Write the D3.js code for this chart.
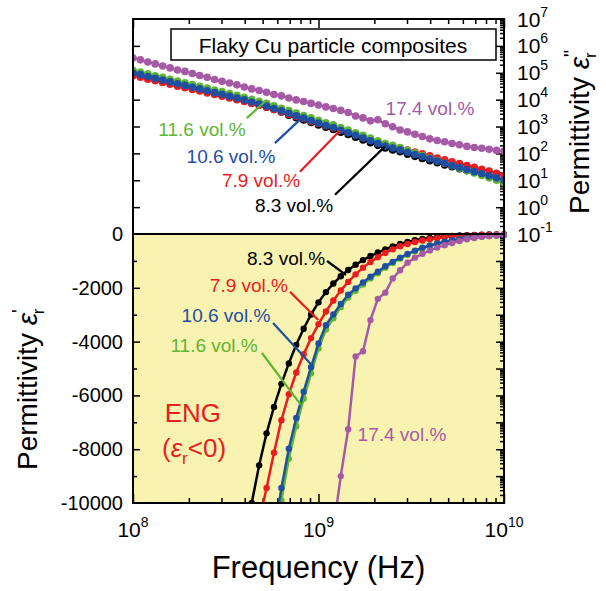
<!DOCTYPE html>
<html>
<head>
<meta charset="utf-8">
<script src="https://cdn.jsdelivr.net/npm/d3@7"></script>
<style>
  body { margin: 0; background: #fff; }
  svg text { font-family: "Liberation Sans", Arial, sans-serif; }
</style>
</head>
<body>
<div id="canvas"></div>
<script>
// frequency grid, log10(Hz)
const logFreq = [8.00,8.04,8.08,8.12,8.16,8.20,8.24,8.28,8.32,8.36,8.40,8.44,8.48,8.52,8.56,8.60,8.64,8.68,8.72,8.76,
  8.80,8.84,8.88,8.92,8.96,9.00,9.04,9.08,9.12,9.16,9.20,9.24,9.28,9.32,9.36,9.40,9.44,9.48,9.52,9.56,
  9.60,9.64,9.68,9.72,9.76,9.80,9.84,9.88,9.92,9.96,10.00];

const seriesNames = ["8.3 vol.%", "7.9 vol.%", "11.6 vol.%", "10.6 vol.%", "17.4 vol.%"];
const seriesColors = ["#000000", "#ea1c1f", "#5fb535", "#1f4fa3", "#a65aa6"];

// top panel: log10 of eps'' (imaginary part)
const lossTop83 = [4.95,4.89,4.82,4.75,4.69,4.62,4.55,4.49,4.42,4.36,4.29,4.22,4.16,4.09,4.02,3.95,3.87,3.80,3.72,3.63,
  3.54,3.42,3.33,3.24,3.15,3.06,2.97,2.89,2.79,2.70,2.60,2.50,2.40,2.30,2.20,2.13,2.06,1.97,1.89,1.81,
  1.73,1.65,1.57,1.50,1.43,1.36,1.29,1.22,1.14,1.07,0.99];
const lossTop79 = [4.89,4.83,4.76,4.70,4.64,4.57,4.50,4.44,4.38,4.32,4.25,4.19,4.13,4.06,4.00,3.93,3.86,3.79,3.72,3.63,
  3.54,3.46,3.37,3.29,3.20,3.11,3.03,2.95,2.86,2.78,2.68,2.59,2.50,2.41,2.32,2.26,2.20,2.12,2.05,1.98,
  1.91,1.83,1.76,1.69,1.62,1.55,1.48,1.41,1.34,1.26,1.18];
const lossTop116 = [5.09,5.03,4.96,4.89,4.83,4.76,4.69,4.63,4.56,4.50,4.43,4.36,4.30,4.23,4.16,4.09,4.01,3.94,3.86,3.77,
  3.68,3.59,3.50,3.41,3.32,3.23,3.14,3.06,2.96,2.87,2.77,2.67,2.57,2.47,2.37,2.30,2.22,2.11,2.02,1.92,
  1.83,1.73,1.63,1.54,1.45,1.36,1.27,1.18,1.09,1.00,0.91];
const lossTop106 = [4.99,4.93,4.86,4.79,4.73,4.66,4.59,4.53,4.46,4.40,4.33,4.26,4.20,4.13,4.06,3.99,3.91,3.84,3.76,3.67,
  3.58,3.49,3.40,3.31,3.22,3.13,3.04,2.96,2.86,2.77,2.67,2.57,2.47,2.37,2.27,2.20,2.13,2.04,1.96,1.88,
  1.80,1.71,1.63,1.55,1.48,1.40,1.32,1.25,1.17,1.09,1.01];
const lossTop174 = [5.55,5.48,5.40,5.33,5.25,5.18,5.10,5.05,4.97,4.90,4.83,4.75,4.68,4.62,4.55,4.47,4.40,4.34,4.27,4.19,
  4.14,4.06,3.99,3.93,3.86,3.80,3.73,3.67,3.60,3.52,3.39,3.32,3.21,3.25,3.10,2.99,2.87,2.80,2.71,2.63,
  2.54,2.48,2.43,2.37,2.32,2.26,2.22,2.19,2.15,2.11,2.09];

// bottom panel: eps' (real part), null where off the chart
const permBot83 = Array(15).fill(null).concat([-11300,-10000,-8600,-7410,-6430,-5570,-4810,-4120,-3520,-2990,
  -2540,-2160,-1840,-1570,-1340,-1140,-970,-820,-690,-570,-460,-370,-295,-234,-186,-148,-117,-91,-71,-55,
  -43,-33,-25,-19,-14,-10]);
const permBot79 = Array(17).fill(null).concat([-10700,-9440,-8130,-6920,-5960,-5150,-4470,-3870,-3350,-2880,
  -2470,-2100,-1780,-1500,-1250,-1040,-860,-705,-570,-457,-370,-300,-242,-195,-155,-122,-95,-73,-56,-43,
  -33,-25,-18,-13]);
const permBot116 = Array(19).fill(null).concat([-11700,-9900,-8350,-7150,-6120,-5180,-4260,-3550,-3130,-2720,
  -2360,-2110,-1880,-1650,-1460,-1250,-1075,-915,-770,-640,-532,-443,-368,-298,-242,-196,-160,-124,-96,-73,
  -54,-39]);
const permBot106 = Array(19).fill(null).concat([-11200,-9440,-7980,-6840,-5860,-4950,-4070,-3390,-2990,-2600,
  -2260,-2020,-1800,-1585,-1400,-1200,-1035,-880,-740,-617,-513,-427,-355,-288,-234,-190,-155,-120,-93,-71,
  -52,-38]);
const permBot174 = Array(27).fill(null).concat([-11000,-9000,-7260,-4550,-4360,-3200,-2410,-2180,-1650,-1350,
  -1065,-880,-735,-610,-505,-415,-333,-260,-197,-148,-105,-75,-45,-30]);

// annotation anchors in data units: [log10 f, log10 eps''] / [log10 f, eps']
const topLabelPos = [[8.868,0.09],[8.690,1.01],[8.372,2.91],[8.528,1.91],[9.601,3.69]];
const topPointers = [[9.089,0.46,9.358,2.25],[8.900,1.32,9.116,2.85],[8.613,3.31,8.712,3.93],[8.765,2.38,8.909,3.31],null];
const botLabelPos = [[8.825,-892],[8.625,-1896],[8.437,-4126],[8.501,-3011],[9.450,-7435]];
const botPointers = [[9.046,-1004,9.148,-1524],[8.846,-2145,8.999,-3197],[8.695,-4424,8.905,-6350],[8.755,-3309,8.963,-4870],null];

const xTickExp = [8, 9, 10];
const rightTickExp = [-1, 0, 1, 2, 3, 4, 5, 6, 7];
const leftTickVals = [0, -2000, -4000, -6000, -8000, -10000];

const w = 606, h = 591;
const plot = {left: 133, right: 504, top: 19, mid: 234, bottom: 503};

const x = d3.scaleLog().domain([1e8, 1e10]).range([plot.left, plot.right]);
const yTop = d3.scaleLog().domain([1e-1, 1e7]).range([plot.mid, plot.top]);
const yBot = d3.scaleLinear().domain([-10000, 0]).range([plot.bottom, plot.mid]);
const yRight = d3.scaleLog().domain([1e-11, 1e7]).range([plot.bottom, plot.top]);

const svg = d3.select("#canvas").append("svg")
  .attr("width", w).attr("height", h);

const defs = svg.append("defs");
defs.append("clipPath").attr("id", "clipTop").append("rect")
  .attr("x", plot.left).attr("y", plot.top)
  .attr("width", plot.right - plot.left).attr("height", plot.mid - plot.top);
defs.append("clipPath").attr("id", "clipBot").append("rect")
  .attr("x", plot.left).attr("y", plot.mid - 4)
  .attr("width", plot.right - plot.left + 3).attr("height", plot.bottom - plot.mid + 4);

// yellow ENG region
svg.append("rect")
  .attr("x", plot.left).attr("y", plot.mid)
  .attr("width", plot.right - plot.left).attr("height", plot.bottom - plot.mid)
  .attr("fill", "#f8f3b0");

const isMajor = v => Math.abs(Math.log10(v) - Math.round(Math.log10(v))) < 1e-6;

// ticks
svg.append("g").attr("transform", `translate(0,${plot.bottom})`)
  .call(d3.axisBottom(x).tickValues(x.ticks()).tickSizeOuter(0).tickFormat(""))
  .call(g => g.select(".domain").remove())
  .call(g => g.selectAll(".tick line").attr("y2", d => isMajor(d) ? -9 : -5).attr("stroke-width", 1.5));

svg.append("g").attr("transform", `translate(0,${plot.top})`)
  .call(d3.axisTop(x).tickValues(x.ticks()).tickSizeOuter(0).tickFormat(""))
  .call(g => g.select(".domain").remove())
  .call(g => g.selectAll(".tick line").attr("y2", d => isMajor(d) ? 9 : 5).attr("stroke-width", 1.5));

svg.append("g").attr("transform", `translate(${plot.left},0)`)
  .call(d3.axisLeft(yTop).tickValues([1e0,1e1,1e2,1e3,1e4,1e5,1e6]).tickSizeOuter(0).tickFormat(""))
  .call(g => g.select(".domain").remove())
  .call(g => g.selectAll(".tick line").attr("x2", 7).attr("stroke-width", 1.5));

svg.append("g").attr("transform", `translate(${plot.left},0)`)
  .call(d3.axisLeft(yBot).tickValues(d3.range(-9000, 0, 1000)).tickSizeOuter(0).tickFormat(""))
  .call(g => g.select(".domain").remove())
  .call(g => g.selectAll(".tick line").attr("x2", d => d % 2000 === 0 ? 7 : 4).attr("stroke-width", 1.5));

svg.append("g").attr("transform", `translate(${plot.right},0)`)
  .call(d3.axisRight(yRight).tickValues(yRight.ticks(30).filter(v => yRight(v) > plot.top + 1 && yRight(v) < plot.bottom - 1))
    .tickSizeOuter(0).tickFormat(""))
  .call(g => g.select(".domain").remove())
  .call(g => g.selectAll(".tick line").attr("x2", d => isMajor(d) ? -8 : -4).attr("stroke-width", 1.5));

// data: top panel
const topSeries = [lossTop83, lossTop79, lossTop116, lossTop106, lossTop174];
const botSeries = [permBot83, permBot79, permBot116, permBot106, permBot174];

const gTop = svg.append("g").attr("clip-path", "url(#clipTop)");
const lineTop = d3.line()
  .x((d, i) => x(Math.pow(10, logFreq[i])))
  .y(d => yTop(Math.pow(10, d)));

topSeries.forEach((s, k) => {
  const g = gTop.append("g");
  g.append("path").attr("d", lineTop(s)).attr("fill", "none")
    .attr("stroke", seriesColors[k]).attr("stroke-width", 2.5);
  g.selectAll("circle").data(s).enter().append("circle")
    .attr("cx", (d, i) => x(Math.pow(10, logFreq[i])))
    .attr("cy", d => yTop(Math.pow(10, d)))
    .attr("r", 3.8)
    .attr("fill", seriesColors[k]);
});

// data: bottom panel
const gBot = svg.append("g").attr("clip-path", "url(#clipBot)");
const lineBot = d3.line()
  .defined(d => d !== null)
  .x((d, i) => x(Math.pow(10, logFreq[i])))
  .y(d => yBot(d));

botSeries.forEach((s, k) => {
  const g = gBot.append("g");
  g.append("path").attr("d", lineBot(s)).attr("fill", "none")
    .attr("stroke", seriesColors[k]).attr("stroke-width", 2.5);
  const pts = s.map((d, i) => ({v: d, f: logFreq[i]})).filter(p => p.v !== null);
  g.selectAll("circle").data(pts).enter().append("circle")
    .attr("cx", p => x(Math.pow(10, p.f)))
    .attr("cy", p => yBot(p.v))
    .attr("r", 3.2)
    .attr("fill", seriesColors[k]);
});

// frame and zero line
svg.append("rect")
  .attr("x", plot.left).attr("y", plot.top)
  .attr("width", plot.right - plot.left).attr("height", plot.bottom - plot.top)
  .attr("fill", "none").attr("stroke", "#000").attr("stroke-width", 2);
svg.append("line")
  .attr("x1", plot.left).attr("x2", plot.right)
  .attr("y1", yBot(0)).attr("y2", yBot(0))
  .attr("stroke", "#000").attr("stroke-width", 2);

// annotations
const gAnn = svg.append("g");
seriesNames.forEach((name, k) => {
  const tp = topLabelPos[k];
  gAnn.append("text")
    .attr("x", x(Math.pow(10, tp[0]))).attr("y", yTop(Math.pow(10, tp[1])))
    .attr("dy", "0.36em").attr("text-anchor", "middle")
    .attr("font-size", 19).attr("fill", seriesColors[k]).text(name);
  const pt = topPointers[k];
  if (pt) {
    gAnn.append("line")
      .attr("x1", x(Math.pow(10, pt[0]))).attr("y1", yTop(Math.pow(10, pt[1])))
      .attr("x2", x(Math.pow(10, pt[2]))).attr("y2", yTop(Math.pow(10, pt[3])))
      .attr("stroke", seriesColors[k]).attr("stroke-width", 2.2);
  }
  const bp = botLabelPos[k];
  gAnn.append("text")
    .attr("x", x(Math.pow(10, bp[0]))).attr("y", yBot(bp[1]))
    .attr("dy", "0.36em").attr("text-anchor", "middle")
    .attr("font-size", 19).attr("fill", seriesColors[k]).text(name);
  const pb = botPointers[k];
  if (pb) {
    gAnn.append("line")
      .attr("x1", x(Math.pow(10, pb[0]))).attr("y1", yBot(pb[1]))
      .attr("x2", x(Math.pow(10, pb[2]))).attr("y2", yBot(pb[3]))
      .attr("stroke", seriesColors[k]).attr("stroke-width", 2.2);
  }
});

// ENG label
gAnn.append("text")
  .attr("x", x(Math.pow(10, 8.323))).attr("y", yBot(-6654))
  .attr("dy", "0.36em").attr("text-anchor", "middle")
  .attr("font-size", 26).attr("fill", "#ea1c1f").text("ENG");
const eng = gAnn.append("text")
  .attr("x", x(Math.pow(10, 8.329))).attr("y", yBot(-7955))
  .attr("dy", "0.36em").attr("text-anchor", "middle")
  .attr("font-size", 26).attr("fill", "#ea1c1f");
eng.append("tspan").text("(");
eng.append("tspan").attr("font-style", "italic").text("ε");
eng.append("tspan").attr("font-size", 17).attr("dy", 7).text("r");
eng.append("tspan").attr("dy", -7).text("<0)");

// legend box
svg.append("rect")
  .attr("x", 171).attr("y", 29).attr("width", 325).attr("height", 31)
  .attr("fill", "#fff").attr("stroke", "#000").attr("stroke-width", 1.5);
svg.append("text")
  .attr("x", 333).attr("y", 45).attr("dy", "0.36em")
  .attr("text-anchor", "middle").attr("font-size", 21)
  .text("Flaky Cu particle composites");

// tick labels
svg.append("g").selectAll("text").data(leftTickVals).enter().append("text")
  .attr("x", 123).attr("y", d => yBot(d)).attr("dy", 7)
  .attr("text-anchor", "end").attr("font-size", 20)
  .text(d => String(d));

xTickExp.forEach(e => {
  const t = svg.append("text")
    .attr("x", x(Math.pow(10, e))).attr("y", 537)
    .attr("text-anchor", "middle").attr("font-size", 21);
  t.append("tspan").text("10");
  t.append("tspan").attr("font-size", 14).attr("dy", -10).text(e);
});

rightTickExp.forEach(e => {
  const t = svg.append("text")
    .attr("x", 517).attr("y", yTop(Math.pow(10, e))).attr("dy", 7.5)
    .attr("font-size", 21);
  t.append("tspan").text("10");
  t.append("tspan").attr("font-size", 14).attr("dy", -10).text(e);
});

// axis titles
svg.append("text")
  .attr("x", (plot.left + plot.right) / 2).attr("y", 578)
  .attr("text-anchor", "middle").attr("font-size", 31)
  .text("Frequency (Hz)");

const yl = svg.append("text")
  .attr("transform", "translate(37,470) rotate(-90)")
  .attr("font-size", 28);
yl.append("tspan").text("Permittivity ");
yl.append("tspan").attr("font-style", "italic").text("ε");
yl.append("tspan").attr("font-size", 20).attr("dy", -11).text("'");
yl.append("tspan").attr("font-size", 17).attr("dx", -5).attr("dy", 18).text("r");

const yr = svg.append("text")
  .attr("transform", "translate(589,214) rotate(-90)")
  .attr("font-size", 28);
yr.append("tspan").text("Permittivity ");
yr.append("tspan").attr("font-style", "italic").text("ε");
yr.append("tspan").attr("font-size", 20).attr("dy", -11).text("\"");
yr.append("tspan").attr("font-size", 17).attr("dx", -8).attr("dy", 18).text("r");
</script>
</body>
</html>
